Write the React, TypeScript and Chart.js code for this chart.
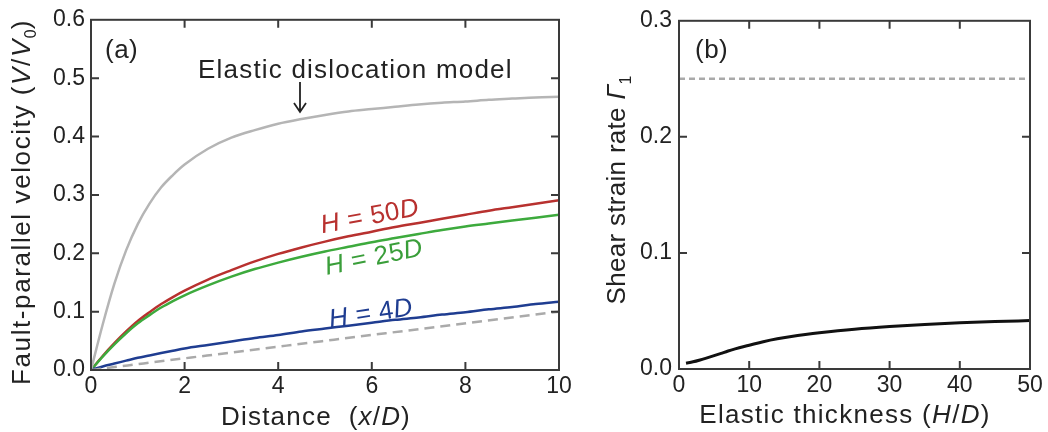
import React, { useEffect, useRef } from "react";
import { Chart, registerables } from "chart.js";
Chart.register(...registerables);

// ---------- Panel (a) data ----------
const distanceX = [0, 0.25, 0.5, 0.75, 1, 1.25, 1.5, 1.75, 2, 2.5, 3, 3.5, 4, 4.5, 5, 5.5, 6, 6.5, 7, 7.5, 8, 8.5, 9, 9.5, 10];
const elasticModel = [0, 0.078, 0.148, 0.205, 0.25, 0.285, 0.313, 0.334, 0.352, 0.379, 0.398, 0.411, 0.422, 0.43, 0.437, 0.443, 0.447, 0.451, 0.455, 0.458, 0.46, 0.463, 0.465, 0.467, 0.468];
const h50 = [0, 0.024, 0.046, 0.066, 0.084, 0.099, 0.113, 0.125, 0.136, 0.155, 0.171, 0.186, 0.199, 0.21, 0.22, 0.229, 0.237, 0.245, 0.252, 0.259, 0.266, 0.273, 0.279, 0.285, 0.291];
const h25 = [0, 0.023, 0.044, 0.063, 0.08, 0.094, 0.107, 0.118, 0.128, 0.145, 0.16, 0.173, 0.184, 0.194, 0.203, 0.211, 0.219, 0.226, 0.233, 0.24, 0.246, 0.251, 0.256, 0.261, 0.266];
const h4 = [0, 0.006, 0.011, 0.016, 0.021, 0.025, 0.029, 0.033, 0.037, 0.043, 0.049, 0.055, 0.06, 0.066, 0.071, 0.076, 0.081, 0.086, 0.09, 0.095, 0.099, 0.104, 0.108, 0.113, 0.117];
const refLineAX = [0, 10];
const refLineAY = [0, 0.1];
const xTicksA = [0, 2, 4, 6, 8, 10];
const yTicksA = [0, 0.1, 0.2, 0.3, 0.4, 0.5, 0.6];

// ---------- Panel (b) data ----------
const thicknessX = [1, 2, 3, 4, 5, 6, 7, 8, 9, 10, 12, 14, 16, 18, 20, 25, 30, 35, 40, 45, 50];
const shearRate = [0.005, 0.0062, 0.0078, 0.0096, 0.0115, 0.0135, 0.0155, 0.0173, 0.019, 0.0205, 0.0235, 0.026, 0.028, 0.0297, 0.0312, 0.0343, 0.0366, 0.0384, 0.0398, 0.0409, 0.0417];
const refLineBX = [0, 50];
const refLineBY = [0.25, 0.25];
const xTicksB = [0, 10, 20, 30, 40, 50];
const yTicksB = [0, 0.1, 0.2, 0.3];

const FAMILY = '"Liberation Sans", Arial, Helvetica, sans-serif';

type Seg = { t: string; italic?: boolean; sub?: boolean };

function drawRich(
  ctx: CanvasRenderingContext2D,
  segs: Seg[],
  x: number,
  y: number,
  angleDeg: number,
  size: number,
  color: string,
  spacing: number,
  align: "center" | "left",
  baseline: CanvasTextBaseline
) {
  ctx.save();
  ctx.translate(x, y);
  ctx.rotate((angleDeg * Math.PI) / 180);
  ctx.fillStyle = color;
  ctx.textBaseline = baseline;
  ctx.textAlign = "left";
  const fontFor = (s: Seg) =>
    `${s.italic ? "italic " : ""}${s.sub ? Math.round(size * 0.6) : size}px ${FAMILY}`;
  const widths = segs.map((s) => {
    ctx.font = fontFor(s);
    (ctx as any).letterSpacing = `${s.sub ? 0 : spacing}px`;
    return ctx.measureText(s.t).width;
  });
  const total = widths.reduce((a, b) => a + b, 0);
  let cx = align === "center" ? -total / 2 : 0;
  segs.forEach((s, i) => {
    ctx.font = fontFor(s);
    (ctx as any).letterSpacing = `${s.sub ? 0 : spacing}px`;
    ctx.fillText(s.t, cx, s.sub ? size * 0.22 : 0);
    cx += widths[i];
  });
  ctx.restore();
}

function framePluginFactory(id: string, extra: (ctx: CanvasRenderingContext2D, chart: any) => void) {
  return {
    id,
    afterDatasetsDraw(chart: any) {
      const { ctx, chartArea } = chart;
      const { left, right, top, bottom } = chartArea;
      const xs = chart.scales.x;
      const ys = chart.scales.y;
      ctx.save();
      ctx.strokeStyle = "#3a3a3a";
      ctx.lineWidth = 2;
      ctx.strokeRect(left, top, right - left, bottom - top);
      const tl = 8;
      ctx.beginPath();
      xs.ticks.forEach((t: any) => {
        const px = xs.getPixelForValue(t.value);
        if (px <= left + 1 || px >= right - 1) return;
        ctx.moveTo(px, bottom);
        ctx.lineTo(px, bottom - tl);
        ctx.moveTo(px, top);
        ctx.lineTo(px, top + tl);
      });
      ys.ticks.forEach((t: any) => {
        const py = ys.getPixelForValue(t.value);
        if (py <= top + 1 || py >= bottom - 1) return;
        ctx.moveTo(left, py);
        ctx.lineTo(left + tl, py);
        ctx.moveTo(right, py);
        ctx.lineTo(right - tl, py);
      });
      ctx.stroke();
      ctx.restore();
      extra(ctx, chart);
    },
  };
}

const pts = (xs: number[], ys: number[]) => xs.map((x, i) => ({ x, y: ys[i] }));

function lineDs(data: any[], color: string, width: number, dash: number[] = []) {
  return {
    data,
    borderColor: color,
    borderWidth: width,
    borderDash: dash,
    pointRadius: 0,
    fill: false,
    tension: 0.4,
    cubicInterpolationMode: "monotone" as const,
  };
}

function axisOpts(min: number, max: number, ticks: number[], fmt: (v: number) => string, fitter: (s: any) => void, pad: number) {
  return {
    type: "linear" as const,
    min,
    max,
    grid: { display: false, drawTicks: false },
    border: { display: false },
    ticks: {
      padding: pad,
      color: "#222",
      font: { size: 23, family: FAMILY },
      maxRotation: 0,
      autoSkip: false,
      callback: (v: any) => fmt(Number(v)),
    },
    afterBuildTicks: (s: any) => {
      s.ticks = ticks.map((v) => ({ value: v }));
    },
    afterFit: fitter,
  };
}

export default function App() {
  const refA = useRef<HTMLCanvasElement>(null);
  const refB = useRef<HTMLCanvasElement>(null);

  useEffect(() => {
    const OFFB = 590;
    const plugA = framePluginFactory("frameA", (ctx) => {
      drawRich(ctx, [{ t: "(a)" }], 105, 58, 0, 26, "#222", 0.5, "left", "alphabetic");
      drawRich(ctx, [{ t: "Elastic dislocation model" }], 198, 78, 0, 26, "#222", 1.2, "left", "alphabetic");
      // arrow
      ctx.save();
      ctx.strokeStyle = "#222";
      ctx.lineWidth = 1.8;
      ctx.beginPath();
      ctx.moveTo(300, 82);
      ctx.lineTo(300, 111);
      ctx.moveTo(294, 103);
      ctx.lineTo(300, 112);
      ctx.lineTo(306, 103);
      ctx.stroke();
      ctx.restore();
      drawRich(ctx, [{ t: "H", italic: true }, { t: " = 50" }, { t: "D", italic: true }], 370, 217, -10.5, 26, "#b8312f", 0.5, "center", "middle");
      drawRich(ctx, [{ t: "H", italic: true }, { t: " = 25" }, { t: "D", italic: true }], 374, 258, -11.5, 26, "#3a9e3a", 0.5, "center", "middle");
      drawRich(ctx, [{ t: "H", italic: true }, { t: " = 4" }, { t: "D", italic: true }], 371, 314, -8.5, 26, "#1f3d91", 0.5, "center", "middle");
      drawRich(
        ctx,
        [{ t: "Fault-parallel velocity (" }, { t: "V", italic: true }, { t: "/" }, { t: "V", italic: true }, { t: "0", sub: true }, { t: ")" }],
        30, 202, -90, 26, "#222", 1.6, "center", "alphabetic"
      );
      drawRich(
        ctx,
        [{ t: "Distance  (" }, { t: "x", italic: true }, { t: "/" }, { t: "D", italic: true }, { t: ")" }],
        316, 425, 0, 26, "#222", 1.2, "center", "alphabetic"
      );
    });

    const plugB = framePluginFactory("frameB", (ctx) => {
      drawRich(ctx, [{ t: "(b)" }], 695 - OFFB, 58, 0, 26, "#222", 0.5, "left", "alphabetic");
      drawRich(
        ctx,
        [{ t: "Shear strain rate " }, { t: "Γ", italic: true }, { t: "1", sub: true }],
        625 - OFFB, 190, -90, 26, "#222", 0.3, "center", "alphabetic"
      );
      drawRich(
        ctx,
        [{ t: "Elastic thickness (" }, { t: "H", italic: true }, { t: "/" }, { t: "D", italic: true }, { t: ")" }],
        845 - OFFB, 423, 0, 26, "#222", 1.3, "center", "alphabetic"
      );
    });

    const chartA = new Chart(refA.current!, {
      type: "line",
      data: {
        datasets: [
          lineDs(pts(refLineAX, refLineAY), "#aaaaaa", 2.5, [10, 6]),
          lineDs(pts(distanceX, elasticModel), "#b5b5b5", 2.5),
          lineDs(pts(distanceX, h4), "#1f3d91", 2.5),
          lineDs(pts(distanceX, h25), "#3daa3d", 2.5),
          lineDs(pts(distanceX, h50), "#b8312f", 2.5),
        ],
      },
      options: {
        animation: false,
        responsive: false,
        layout: { padding: { left: 0, top: 18, right: 31, bottom: 0 } },
        plugins: { legend: { display: false }, tooltip: { enabled: false } },
        scales: {
          x: axisOpts(0, 10, xTicksA, (v) => String(v), (s: any) => { s.height = 62; }, 3),
          y: axisOpts(0, 0.6, yTicksA, (v) => v.toFixed(1), (s: any) => { s.width = 91; }, 6),
        },
      } as any,
      plugins: [plugA],
    });

    const chartB = new Chart(refB.current!, {
      type: "line",
      data: {
        datasets: [
          lineDs(pts(refLineBX, refLineBY), "#aaaaaa", 2.5, [6, 4]),
          lineDs(pts(thicknessX, shearRate), "#111111", 3),
        ],
      },
      options: {
        animation: false,
        responsive: false,
        layout: { padding: { left: 0, top: 18, right: 18, bottom: 0 } },
        plugins: { legend: { display: false }, tooltip: { enabled: false } },
        scales: {
          x: axisOpts(0, 50, xTicksB, (v) => String(v), (s: any) => { s.height = 63; }, 3),
          y: axisOpts(0, 0.3, yTicksB, (v) => v.toFixed(1), (s: any) => { s.width = 89; }, 7),
        },
      } as any,
      plugins: [plugB],
    });

    return () => {
      chartA.destroy();
      chartB.destroy();
    };
  }, []);

  return (
    <div style={{ position: "absolute", left: 0, top: 0, width: 1048, height: 432, background: "#fff", overflow: "hidden" }}>
      <canvas ref={refA} width={590} height={432} style={{ position: "absolute", left: 0, top: 0, width: 590, height: 432 }} />
      <canvas ref={refB} width={458} height={432} style={{ position: "absolute", left: 590, top: 0, width: 458, height: 432 }} />
    </div>
  );
}
